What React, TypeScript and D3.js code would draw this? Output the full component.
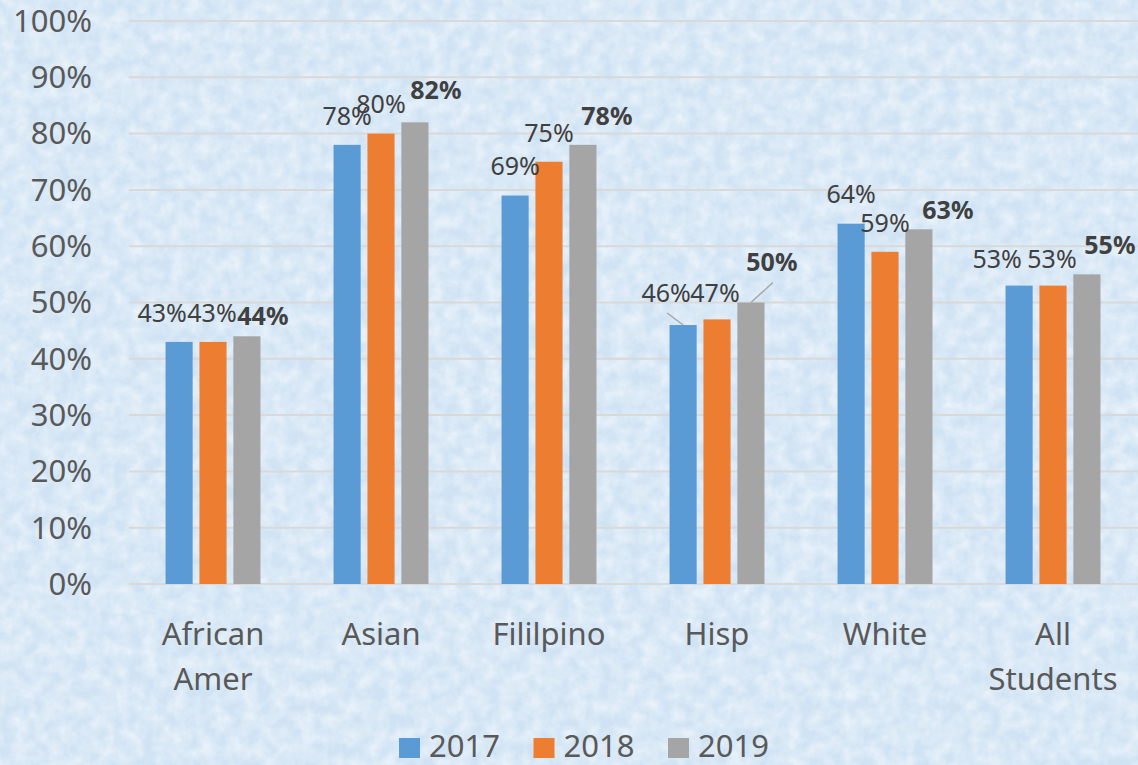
import React from 'react'
import * as d3 from 'd3'

const WIDTH = 1138
const HEIGHT = 765

const categories = ['African Amer', 'Asian', 'Fililpino', 'Hisp', 'White', 'All Students']
const years = ['2017', '2018', '2019']
const values2017 = [0.43, 0.78, 0.69, 0.46, 0.64, 0.53]
const values2018 = [0.43, 0.80, 0.75, 0.47, 0.59, 0.53]
const values2019 = [0.44, 0.82, 0.78, 0.50, 0.63, 0.55]
const yTicks = [0, 0.1, 0.2, 0.3, 0.4, 0.5, 0.6, 0.7, 0.8, 0.9, 1]

const COLORS = ['#5b9bd5', '#ed7d31', '#a5a5a5']
const FONT = '"Noto Sans", "Open Sans", sans-serif'

// hand-moved data labels (pixels from the default spot), as in the original workbook
const labelNudges = [
  [[-17, 0], [0, 0], [0, 0], [-17, -3, 1], [0, 0], [-22, 3]],
  [[-1, 0], [0, 0], [0, 0], [-2, 3], [0, 0], [-1, 3]],
  [[16, 9], [21, -3], [24, 0], [21, -11, 1], [29, 10], [23, 0]],
]

const margin = { top: 21, right: 1, left: 129, bottom: 181 }

export default function App() {
  const series = [values2017, values2018, values2019]

  const x0 = d3.scaleBand()
    .domain(categories)
    .range([margin.left, WIDTH - margin.right])
    .paddingInner(0.435)
    .paddingOuter(0.2175)

  const x1 = d3.scaleBand()
    .domain(years)
    .range([0, x0.bandwidth()])
    .paddingInner(0.2)

  const y = d3.scaleLinear()
    .domain([0, 1])
    .range([HEIGHT - margin.bottom, margin.top])

  const fmt = d3.format('.0%')

  return (
    <div style={{ position: 'absolute', left: 0, top: 0 }}>
      <svg width={WIDTH} height={HEIGHT} style={{ display: 'block' }}>
        <defs>
          <filter id="frost" x="0" y="0" width="100%" height="100%">
            <feTurbulence type="fractalNoise" baseFrequency="0.07" numOctaves="4" seed="7" />
            <feColorMatrix type="matrix"
              values="0 0 0 0 1  0 0 0 0 1  0 0 0 0 1  0 0 0 0.9 -0.25" />
          </filter>
        </defs>
        <rect width={WIDTH} height={HEIGHT} fill="#d0e3f4" />
        <rect width={WIDTH} height={HEIGHT} fill="#fff" filter="url(#frost)" />

        {/* gridlines + y labels */}
        <g>
          {yTicks.map((t) => (
            <g key={t}>
              <line x1={margin.left} x2={WIDTH} y1={y(t)} y2={y(t)}
                stroke="#d9d9d9" strokeWidth={2} />
              <text x={92} y={y(t)} dy="0.35em" textAnchor="end"
                fontFamily={FONT} fontSize={31} fill="#595959">{fmt(t)}</text>
            </g>
          ))}
        </g>

        {/* bars */}
        <g>
          {categories.map((c, ci) => (
            <g key={c} transform={`translate(${x0(c)},0)`}>
              {series.map((vals, si) => (
                <rect key={si}
                  x={x1(years[si])}
                  y={y(vals[ci])}
                  width={x1.bandwidth()}
                  height={y(0) - y(vals[ci])}
                  fill={COLORS[si]} />
              ))}
            </g>
          ))}
        </g>

        {/* data labels */}
        <g>
          {categories.map((c, ci) => series.map((vals, si) => {
            const cx = x0(c) + x1(years[si]) + x1.bandwidth() / 2
            const top = y(vals[ci])
            const [dx, dy, leader] = labelNudges[si][ci]
            const lx = cx + dx
            const ly = top - 29 + dy
            return (
              <g key={c + si}>
                {leader ? (
                  <line x1={lx + 1} y1={ly + 20} x2={cx} y2={top}
                    stroke="#a6a6a6" strokeWidth={1.5} />
                ) : null}
                <text x={lx} y={ly} dy="0.35em" textAnchor="middle"
                  fontFamily={FONT} fontSize={25}
                  fontWeight={si === 2 ? 'bold' : 'normal'}
                  fill="#404040">{fmt(vals[ci])}</text>
              </g>
            )
          }))}
        </g>

        {/* category axis */}
        <g>
          {categories.map((c) => {
            const cx = x0(c) + x0.bandwidth() / 2
            return (
              <text key={c} x={cx} y={645} textAnchor="middle"
                fontFamily={FONT} fontSize={31} fill="#595959">
                {c.split(' ').map((w, i) => (
                  <tspan key={i} x={cx} dy={i === 0 ? 0 : 45}>{w}</tspan>
                ))}
              </text>
            )
          })}
        </g>

        {/* legend */}
        <g>
          {years.map((yr, i) => (
            <g key={yr} transform={`translate(${399 + i * 134.5},0)`}>
              <rect x={0} y={738} width={21} height={20} fill={COLORS[i]} />
              <text x={30} y={757} fontFamily={FONT} fontSize={31} fill="#595959">{yr}</text>
            </g>
          ))}
        </g>
      </svg>
    </div>
  )
}
